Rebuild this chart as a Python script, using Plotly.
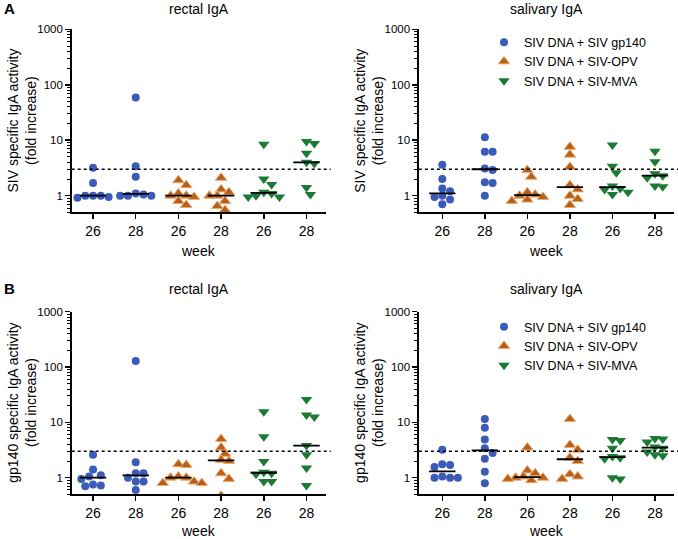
import numpy as np
import plotly.graph_objects as go

# ---------------- data ----------------
weeks = ["26", "28", "26", "28", "26", "28"]
group_names = ["SIV DNA + SIV gp140", "SIV DNA + SIV-OPV", "SIV DNA + SIV-MVA"]
y_ticks = [1, 10, 100, 1000]
y_ticklabels = ["1", "10", "100", "1000"]
cutoff = 3

# Panel A, rectal IgA (SIV specific)
siv_rect_gp140_26 = [3.2, 1.7, 1.0, 1.0, 1.0, 0.95, 0.92]
siv_rect_gp140_28 = [59, 3.4, 2.2, 1.1, 1.05, 1.0, 1.0, 1.0]
siv_rect_opv_26 = [1.9, 1.55, 1.1, 1.0, 1.0, 0.95, 0.8, 0.68]
siv_rect_opv_28 = [2.1, 1.3, 1.15, 1.0, 1.0, 0.8, 0.65, 0.55]
siv_rect_mva_26 = [8.5, 2.0, 1.6, 1.15, 1.1, 1.0, 0.95, 0.95]
siv_rect_mva_28 = [9.5, 8.7, 5.8, 4.0, 3.8, 1.4, 1.05]

# Panel A, salivary IgA (SIV specific)
siv_sal_gp140_26 = [3.6, 2.0, 1.35, 1.2, 1.0, 0.95, 0.85, 0.7]
siv_sal_gp140_28 = [11.3, 6.2, 6.2, 3.1, 2.9, 1.75, 1.7, 1.0]
siv_sal_opv_26 = [2.9, 2.2, 1.15, 1.05, 1.0, 0.95, 0.85, 0.8]
siv_sal_opv_28 = [7.6, 5.5, 3.3, 1.55, 1.3, 1.0, 0.87, 0.68]
siv_sal_mva_26 = [8.2, 3.4, 2.6, 1.5, 1.35, 1.3, 1.15, 1.05]
siv_sal_mva_28 = [6.3, 4.1, 2.5, 2.3, 2.1, 1.5, 1.45]

# Panel B, rectal IgA (gp140 specific)
gp_rect_gp140_26 = [2.6, 1.4, 1.1, 1.05, 0.95, 0.75, 0.72, 0.7]
gp_rect_gp140_28 = [129, 1.9, 1.2, 1.2, 1.0, 0.85, 0.85, 0.6]
gp_rect_opv_26 = [1.75, 1.7, 1.05, 1.0, 1.0, 0.85, 0.8, 0.8]
gp_rect_opv_28 = [5.0, 3.5, 2.7, 2.1, 2.0, 1.2, 0.95, 0.47]
gp_rect_mva_26 = [15.5, 5.5, 1.95, 1.25, 1.2, 1.15, 0.85, 0.85]
gp_rect_mva_28 = [26, 13.5, 12.5, 3.8, 2.6, 1.5, 0.72]

# Panel B, salivary IgA (gp140 specific)
gp_sal_gp140_26 = [3.2, 1.75, 1.7, 1.55, 1.05, 1.0, 1.0, 1.0]
gp_sal_gp140_28 = [11.5, 8.0, 4.9, 3.4, 2.8, 2.2, 1.28, 0.79]
gp_sal_opv_26 = [3.5, 1.35, 1.2, 1.05, 1.0, 1.0, 0.95, 0.9]
gp_sal_opv_28 = [11.5, 3.9, 3.2, 2.3, 2.0, 1.15, 1.05, 0.95]
gp_sal_mva_26 = [4.9, 4.7, 3.4, 2.4, 2.3, 2.2, 1.0, 0.95]
gp_sal_mva_28 = [5.1, 5.0, 4.4, 3.6, 3.4, 2.9, 2.6, 2.5]

panels = [
    dict(title="rectal IgA", ylab="SIV specific IgA activity<br>(fold increase)",
         data=[siv_rect_gp140_26, siv_rect_gp140_28, siv_rect_opv_26,
               siv_rect_opv_28, siv_rect_mva_26, siv_rect_mva_28]),
    dict(title="salivary IgA", ylab="SIV specific IgA activity<br>(fold increase)",
         data=[siv_sal_gp140_26, siv_sal_gp140_28, siv_sal_opv_26,
               siv_sal_opv_28, siv_sal_mva_26, siv_sal_mva_28]),
    dict(title="rectal IgA", ylab="gp140 specific IgA activity<br>(fold increase)",
         data=[gp_rect_gp140_26, gp_rect_gp140_28, gp_rect_opv_26,
               gp_rect_opv_28, gp_rect_mva_26, gp_rect_mva_28]),
    dict(title="salivary IgA", ylab="gp140 specific IgA activity<br>(fold increase)",
         data=[gp_sal_gp140_26, gp_sal_gp140_28, gp_sal_opv_26,
               gp_sal_opv_28, gp_sal_mva_26, gp_sal_mva_28]),
]

# ---------------- styling ----------------
W, H = 678, 539
FONT = "Arial, Liberation Sans, sans-serif"
colors = ["#3a5cb8", "#b5601c", "#1b7a34"]
outline = ["#3a5cb8", "#f0a86a", "#1b7a34"]
symbols = ["circle", "triangle-up", "triangle-down"]
msize = [8, 10, 10]


def px(xp):
    return xp / W


def py(yp):
    return 1 - yp / H


# panel geometry in pixels: (left, right, top, bottom)
geom = [
    (71.7, 325.7, 29.3, 212.4),
    (418.9, 674.1, 29.3, 212.4),
    (71.7, 325.7, 311.7, 494.3),
    (418.9, 674.1, 311.7, 494.3),
]
title_y = [9, 9, 288.5, 288.5]
week_y = [251, 251, 531, 531]
x_ranges = [[-0.5, 5.45], [-0.55, 5.45], [-0.5, 5.45], [-0.55, 5.45]]
y_range = [np.log10(0.5), 3]


def swarm(vals, px_per_unit, px_per_dec, d=7.8):
    ys = np.log10(np.asarray(vals, float)) * px_per_dec
    order = np.argsort(-ys, kind="stable")
    placed = []
    offs = np.zeros(len(ys))
    for i in order:
        x = 0.0
        for k in [0, 1, -1, 2, -2, 3, -3, 4, -4, 5, -5, 6, -6]:
            x = k * d * 0.5
            if all((x - a) ** 2 + (ys[i] - b) ** 2 >= (0.92 * d) ** 2 for a, b in placed):
                break
        placed.append((x, ys[i]))
        offs[i] = x / px_per_unit
    return offs


fig = go.Figure()
shapes = []
annotations = []
minor_vals = [m * 10 ** e for e in range(-1, 3) for m in range(2, 10) if 0.5 <= m * 10 ** e <= 1000]

for p, panel in enumerate(panels):
    n = p + 1
    xa = "x" if n == 1 else f"x{n}"
    ya = "y" if n == 1 else f"y{n}"
    left, right, top, bottom = geom[p]
    xr = x_ranges[p]
    px_per_unit = (right - left) / (xr[1] - xr[0])
    px_per_dec = (bottom - top) / (y_range[1] - y_range[0])
    legend_name = "legend" if n == 2 else "legend2"
    for ci, vals in enumerate(panel["data"]):
        g = ci // 2
        offs = swarm(vals, px_per_unit, px_per_dec)
        show = (n in (2, 4)) and (ci % 2 == 0)
        fig.add_trace(go.Scatter(
            x=ci + offs, y=vals, mode="markers", xaxis=xa, yaxis=ya,
            name=group_names[g], showlegend=show, legend=legend_name,
            marker=dict(symbol=symbols[g], size=msize[g], color=colors[g],
                        line=dict(color=outline[g], width=1 if g == 1 else 0)),
        ))
        med = float(np.median(vals))
        shapes.append(dict(type="line", xref=xa, yref=ya, x0=ci - 0.31, x1=ci + 0.31,
                           y0=med, y1=med, line=dict(color="black", width=1.8)))
    shapes.append(dict(type="line", xref=f"{xa} domain", yref=ya, x0=0, x1=1.02,
                       y0=cutoff, y1=cutoff, line=dict(color="black", width=1.5, dash="dot")))

    axkw = dict(showline=True, linecolor="black", linewidth=1.5, ticks="outside",
                ticklen=5, tickwidth=1.5, tickcolor="black", showgrid=False, zeroline=False,
                automargin=False)
    fig.update_layout(**{
        ("xaxis" if n == 1 else f"xaxis{n}"): dict(
            domain=[px(left), min(px(right), 1.0)], anchor=ya, range=xr,
            tickmode="array", tickvals=list(range(6)), ticktext=weeks,
            tickfont=dict(size=14, color="black", family=FONT), **axkw),
        ("yaxis" if n == 1 else f"yaxis{n}"): dict(
            domain=[py(bottom), py(top)], anchor=xa, type="log", range=y_range,
            tickmode="array", tickvals=y_ticks, ticktext=y_ticklabels,
            tickfont=dict(size=11.5, color="black", family=FONT),
            minor=dict(tickmode="array", tickvals=minor_vals, ticks="outside",
                       ticklen=3, tickwidth=1, tickcolor="black", showgrid=False),
            **axkw),
    })

    cxp = (left + right) / 2
    annotations.append(dict(text=panel["title"], x=px(cxp), y=py(title_y[p]), xref="paper",
                            yref="paper", showarrow=False, xanchor="center", yanchor="middle",
                            font=dict(size=14, color="black", family=FONT)))
    annotations.append(dict(text="week", x=px(cxp), y=py(week_y[p]), xref="paper",
                            yref="paper", showarrow=False, xanchor="center", yanchor="middle",
                            font=dict(size=14, color="black", family=FONT)))
    annotations.append(dict(text=panel["ylab"], x=px(left - 50), y=py((top + bottom) / 2),
                            xref="paper", yref="paper", showarrow=False, textangle=-90,
                            xanchor="center", yanchor="middle",
                            font=dict(size=14, color="black", family=FONT)))

for lbl, yy in [("A", 8.5), ("B", 288)]:
    annotations.append(dict(text=f"<b>{lbl}</b>", x=px(2), y=py(yy), xref="paper",
                            yref="paper", showarrow=False, xanchor="left", yanchor="middle",
                            font=dict(size=15, color="black", family=FONT)))

legkw = dict(xanchor="left", yanchor="top", bgcolor="rgba(0,0,0,0)",
             font=dict(size=12.5, color="black", family=FONT), itemwidth=30,
             tracegroupgap=0, borderwidth=0)
fig.update_layout(
    template="none",
    width=W, height=H, margin=dict(l=0, r=0, t=0, b=0, autoexpand=False),
    paper_bgcolor="white", plot_bgcolor="white",
    shapes=shapes, annotations=annotations,
    legend=dict(x=px(484), y=py(27.5), **legkw),
    legend2=dict(x=px(484), y=py(312), **legkw),
    font=dict(family=FONT, color="black"),
    hovermode=False,
)

fig.write_html("out.html", config={"displayModeBar": False, "staticPlot": True},
               post_script="document.body.style.margin='0px';document.body.style.overflow='hidden';")
